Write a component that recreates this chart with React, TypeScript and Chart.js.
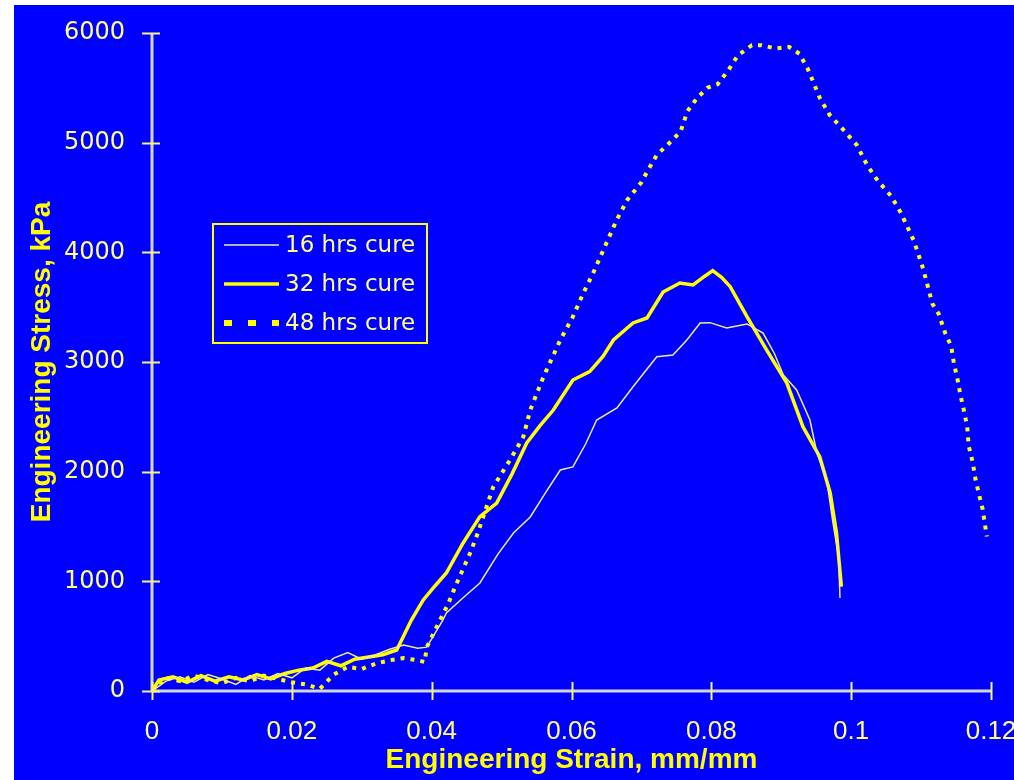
import React, { useEffect, useRef } from 'react';
import { Chart, registerables } from 'chart.js';

Chart.register(...registerables);

const seriesLabels = ['16 hrs cure', '32 hrs cure', '48 hrs cure'];

const strain16 = [0, 0.002, 0.004, 0.006, 0.008, 0.010, 0.012, 0.014, 0.016, 0.018, 0.020, 0.022, 0.024, 0.026, 0.028, 0.030, 0.032, 0.034, 0.036, 0.038, 0.0393, 0.0416, 0.0421, 0.0445, 0.0469, 0.0495, 0.0517, 0.0541, 0.0562, 0.0584, 0.0602, 0.0620, 0.0636, 0.0665, 0.0688, 0.0722, 0.0745, 0.0765, 0.0784, 0.0798, 0.0822, 0.0851, 0.0874, 0.0890, 0.0903, 0.0922, 0.0941, 0.0951, 0.0965, 0.0974, 0.0982, 0.0984];
const stress16 = [0, 90, 130, 80, 150, 110, 60, 140, 100, 160, 120, 210, 190, 300, 350, 290, 330, 380, 420, 390, 400, 647, 711, 850, 985, 1250, 1441, 1587, 1800, 2015, 2043, 2250, 2471, 2581, 2775, 3048, 3064, 3200, 3356, 3359, 3310, 3347, 3264, 3080, 2882, 2745, 2471, 2170, 1924, 1532, 1225, 848];

const strain32 = [0, 0.001, 0.003, 0.005, 0.007, 0.009, 0.011, 0.013, 0.015, 0.017, 0.019, 0.021, 0.023, 0.025, 0.027, 0.029, 0.031, 0.033, 0.035, 0.0371, 0.0388, 0.0405, 0.0421, 0.0445, 0.0469, 0.0493, 0.0515, 0.0536, 0.0555, 0.0574, 0.0602, 0.0626, 0.0645, 0.0660, 0.0688, 0.0708, 0.0731, 0.0755, 0.0774, 0.0790, 0.0802, 0.0815, 0.0827, 0.0851, 0.0879, 0.0908, 0.0931, 0.0955, 0.0970, 0.0979, 0.0986];
const stress32 = [0, 100, 130, 80, 140, 90, 130, 100, 150, 110, 160, 190, 210, 270, 230, 290, 310, 330, 374, 647, 830, 960, 1076, 1350, 1590, 1714, 1980, 2262, 2420, 2562, 2836, 2912, 3050, 3201, 3356, 3401, 3638, 3720, 3702, 3780, 3833, 3770, 3687, 3413, 3110, 2808, 2410, 2137, 1806, 1441, 951];

const strain48 = [0, 0.002, 0.004, 0.006, 0.008, 0.010, 0.012, 0.014, 0.016, 0.018, 0.020, 0.022, 0.024, 0.026, 0.028, 0.030, 0.032, 0.034, 0.036, 0.038, 0.0390, 0.0393, 0.0412, 0.0424, 0.0436, 0.0455, 0.0466, 0.0488, 0.0512, 0.0531, 0.0541, 0.0560, 0.0584, 0.0602, 0.0617, 0.0631, 0.0650, 0.0665, 0.0680, 0.0700, 0.0708, 0.0722, 0.0742, 0.0756, 0.0766, 0.0780, 0.0795, 0.0809, 0.0824, 0.0838, 0.0858, 0.0872, 0.0892, 0.0911, 0.0926, 0.0938, 0.0945, 0.0955, 0.0969, 0.0989, 0.1008, 0.1023, 0.1038, 0.1057, 0.1071, 0.1079, 0.1090, 0.1103, 0.1116, 0.1125, 0.1135, 0.1143, 0.1147, 0.1152, 0.1156, 0.1161, 0.1166, 0.1168, 0.1174, 0.1178, 0.1183, 0.1188, 0.1191, 0.1194];
const stress48 = [0, 120, 90, 140, 100, 70, 120, 90, 140, 110, 80, 60, 20, 150, 220, 200, 250, 280, 300, 280, 265, 400, 647, 800, 985, 1258, 1441, 1860, 2106, 2316, 2562, 2866, 3201, 3413, 3629, 3812, 4085, 4300, 4480, 4638, 4733, 4888, 5009, 5101, 5289, 5410, 5502, 5533, 5657, 5796, 5889, 5889, 5858, 5873, 5811, 5672, 5565, 5410, 5255, 5116, 4979, 4793, 4654, 4514, 4361, 4252, 4100, 3850, 3534, 3441, 3255, 3146, 2987, 2847, 2708, 2565, 2409, 2238, 2081, 1924, 1790, 1660, 1534, 1409];

const xTicks = [0, 0.02, 0.04, 0.06, 0.08, 0.1, 0.12];
const xTickLabels = ['0', '0.02', '0.04', '0.06', '0.08', '0.1', '0.12'];
const yTicks = [0, 1000, 2000, 3000, 4000, 5000, 6000];

const xTitle = 'Engineering Strain, mm/mm';
const yTitle = 'Engineering Stress, kPa';

const toPoints = (xs: number[], ys: number[]) => xs.map((x, i) => ({ x, y: ys[i] }));

const AXIS_GRAY = '#d4d4c8';
const TICK_COL = '#f4f47a';
const TEXT_COL = '#ffff80';

const axesPlugin = {
  id: 'crossAxes',
  beforeDatasetsDraw(chart: any) {
    const { ctx, chartArea, scales } = chart;
    const xs = scales.x;
    const ys = scales.y;
    ctx.save();
    ctx.strokeStyle = AXIS_GRAY;
    ctx.lineWidth = 3;
    ctx.beginPath();
    ctx.moveTo(chartArea.left, chartArea.top);
    ctx.lineTo(chartArea.left, chartArea.bottom);
    ctx.moveTo(chartArea.left, chartArea.bottom);
    ctx.lineTo(chartArea.right, chartArea.bottom);
    ctx.stroke();
    ctx.strokeStyle = TICK_COL;
    ctx.lineWidth = 2;
    ctx.beginPath();
    yTicks.forEach((v) => {
      const py = Math.round(ys.getPixelForValue(v)) + 0.5;
      ctx.moveTo(chartArea.left - 10, py);
      ctx.lineTo(chartArea.left + 8, py);
    });
    xTicks.forEach((v) => {
      const px = Math.round(xs.getPixelForValue(v)) + 0.5;
      ctx.moveTo(px, chartArea.bottom - 9);
      ctx.lineTo(px, chartArea.bottom + 9);
    });
    ctx.stroke();
    ctx.restore();
  },
};

const legendPlugin = {
  id: 'boxLegend',
  afterDraw(chart: any) {
    const { ctx, chartArea } = chart;
    const bx = chartArea.left + 61;
    const by = chartArea.top + 191;
    const bw = 214;
    const bh = 119;
    ctx.save();
    ctx.strokeStyle = '#ffff00';
    ctx.lineWidth = 2;
    ctx.strokeRect(bx, by, bw, bh);
    const rowY = [by + 21, by + 60, by + 99];
    chart.data.datasets.forEach((ds: any, i: number) => {
      const y = rowY[i];
      ctx.save();
      ctx.strokeStyle = ds.borderColor;
      ctx.lineWidth = i === 2 ? 6 : ds.borderWidth;
      ctx.setLineDash(i === 2 ? [8, 16] : []);
      ctx.beginPath();
      ctx.moveTo(bx + 11, y);
      ctx.lineTo(bx + 66, y);
      ctx.stroke();
      ctx.restore();
      ctx.fillStyle = TEXT_COL;
      ctx.font = '23px "DejaVu Sans"';
      ctx.textBaseline = 'middle';
      ctx.textAlign = 'left';
      ctx.fillText(ds.label, bx + 72, y + 1);
    });
    ctx.restore();
  },
};

export default function App() {
  const canvasRef = useRef<HTMLCanvasElement | null>(null);

  useEffect(() => {
    if (!canvasRef.current) return;
    const chart = new Chart(canvasRef.current, {
      type: 'line',
      data: {
        datasets: [
          {
            label: seriesLabels[0],
            data: toPoints(strain16, stress16),
            borderColor: '#eeee90',
            borderWidth: 1.5,
            pointRadius: 0,
            tension: 0,
          },
          {
            label: seriesLabels[1],
            data: toPoints(strain32, stress32),
            borderColor: '#ffff00',
            borderWidth: 3.5,
            pointRadius: 0,
            tension: 0,
          },
          {
            label: seriesLabels[2],
            data: toPoints(strain48, stress48),
            borderColor: '#ffff00',
            borderWidth: 4,
            borderDash: [4, 6],
            pointRadius: 0,
            tension: 0,
          },
        ],
      },
      options: {
        animation: false,
        responsive: false,
        layout: { padding: { top: 33, right: 23, bottom: 0, left: 0 } },
        plugins: {
          legend: { display: false },
          tooltip: { enabled: false },
        },
        scales: {
          x: {
            type: 'linear',
            min: 0,
            max: 0.12,
            grid: { display: false, drawTicks: false },
            border: { display: false },
            afterBuildTicks: (s: any) => {
              s.ticks = xTicks.map((v) => ({ value: v }));
            },
            afterFit: (s: any) => {
              s.height = 89;
              s.paddingLeft = 0;
              s.paddingRight = 0;
            },
            ticks: {
              autoSkip: false,
              maxRotation: 0,
              padding: 25,
              color: TEXT_COL,
              font: { family: '"Liberation Sans", Arial, sans-serif', size: 26 },
              callback: (v: any) => {
                const i = xTicks.findIndex((t) => Math.abs(t - Number(v)) < 1e-9);
                return i >= 0 ? xTickLabels[i] : '';
              },
            },
            title: {
              display: true,
              text: xTitle,
              color: '#ffff00',
              font: { family: '"Liberation Sans", Arial, sans-serif', size: 28, weight: 'bold' },
              padding: { top: 0, bottom: 3 },
            },
          },
          y: {
            type: 'linear',
            min: 0,
            max: 6000,
            grid: { display: false, drawTicks: false },
            border: { display: false },
            afterBuildTicks: (s: any) => {
              s.ticks = yTicks.map((v) => ({ value: v }));
            },
            afterFit: (s: any) => {
              s.width = 152;
              s.paddingTop = 0;
              s.paddingBottom = 0;
            },
            ticks: {
              padding: 27,
              color: TEXT_COL,
              font: { family: '"DejaVu Sans", sans-serif', size: 24 },
              callback: (v: any) => String(v),
            },
            title: {
              display: true,
              text: yTitle,
              color: '#ffff00',
              font: { family: '"Liberation Sans", Arial, sans-serif', size: 28, weight: 'bold' },
              padding: { top: 25, bottom: 0 },
            },
          },
        },
      },
      plugins: [axesPlugin, legendPlugin],
    });
    return () => chart.destroy();
  }, []);

  return (
    <div style={{ position: 'absolute', left: 0, top: 0, width: 1014, height: 780, background: '#ffffff' }}>
      <div style={{ position: 'absolute', left: 14, top: 5, right: 0, bottom: 0, background: '#0000ff' }} />
      <canvas
        ref={canvasRef}
        width={1014}
        height={780}
        style={{ position: 'absolute', left: 0, top: 0, width: 1014, height: 780, display: 'block' }}
      />
    </div>
  );
}
